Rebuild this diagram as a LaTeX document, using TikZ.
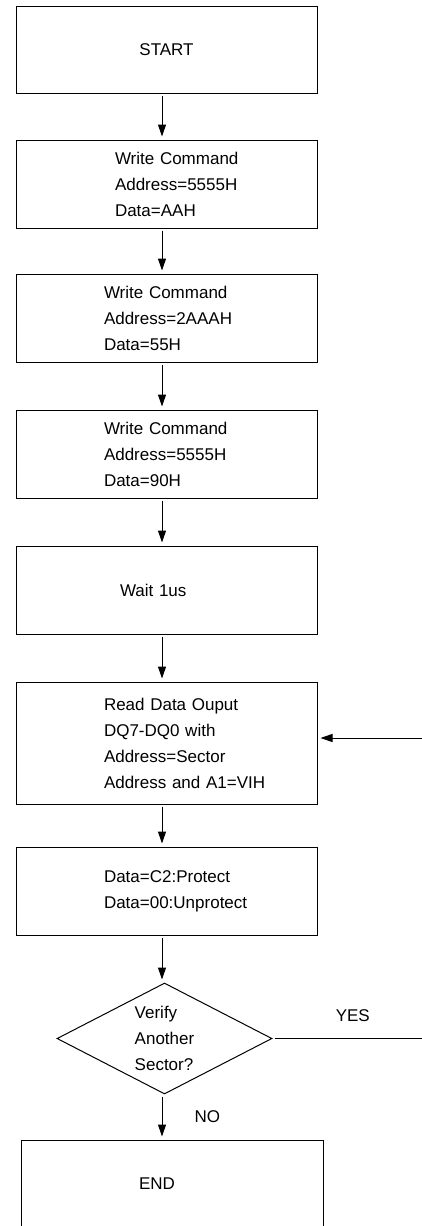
\documentclass[tikz,border=0pt]{standalone}
\usepackage{fontspec}
\setmainfont{Liberation Sans}
\usetikzlibrary{arrows.meta,positioning,shapes.geometric}
\hyphenpenalty=10000
\exhyphenpenalty=10000

\begin{document}
\begin{tikzpicture}[->,>={Triangle[length=12pt,width=8pt]},shorten >=3pt,shorten <=2pt,
  line width=1pt,font=\fontsize{17pt}{26pt}\selectfont]
  \tikzstyle{stepbox}=[draw,rectangle,minimum width=301pt,minimum height=88pt,inner sep=0pt,align=left]
  \tikzstyle{decision}=[draw,diamond,aspect=1.94,minimum width=215pt,minimum height=111pt,inner sep=0pt,align=left]
  \tikzstyle{lbl}=[inner sep=0pt]

  \useasboundingbox (0,0) rectangle (422pt,-1226pt);
  \coordinate (axis) at (162pt,0);
  \coordinate (loop) at (424pt,0);

  \node[stepbox,minimum height=87pt]        (start) at (166.5pt,-49.5pt) {START};
  \node[stepbox,text width=103pt]           (cmd1) [below=46pt of start] {Write~Command\\Address=5555H\\Data=AAH};
  \node[stepbox,text width=125pt]           (cmd2) [below=45pt of cmd1]  {Write~Command\\Address=2AAAH\\Data=55H};
  \node[stepbox,text width=125pt]           (cmd3) [below=47pt of cmd2]  {Write~Command\\Address=5555H\\Data=90H};
  \node[stepbox,text width=93pt]            (wait) [below=47pt of cmd3]  {Wait~1us};
  \node[stepbox,text width=125pt,minimum height=122pt] (read) [below=47pt of wait]
    {Read~Data~Ouput\\DQ7-DQ0~with\\Address=Sector\\Address~and~A1=VIH};
  \node[stepbox,text width=125pt]           (prot) [below=42pt of read]  {Data=C2:Protect\\Data=00:Unprotect};
  \node[decision]                           (verify) [below=47pt of prot,xshift=-2pt] {Verify\\Another\\Sector?};
  \node[stepbox,text width=66pt,minimum width=302pt] (finish) [below=45pt of verify,xshift=7.5pt] {END};

  \path (start.south -| axis)  edge (cmd1.north -| axis)
        (cmd1.south -| axis)   edge (cmd2.north -| axis)
        (cmd2.south -| axis)   edge (cmd3.north -| axis)
        (cmd3.south -| axis)   edge (wait.north -| axis)
        (wait.south -| axis)   edge (read.north -| axis)
        (read.south -| axis)   edge (prot.north -| axis)
        (prot.south -| axis)   edge (verify.north -| axis)
        (verify.south -| axis) edge node[lbl,right=32pt] {NO} (finish.north -| axis)
        ;
  \draw (verify.east) -- node[lbl,above=16pt,pos=0.53] {YES} (verify.east -| loop)
        |- ([yshift=5pt]read.east);
\end{tikzpicture}
\end{document}
